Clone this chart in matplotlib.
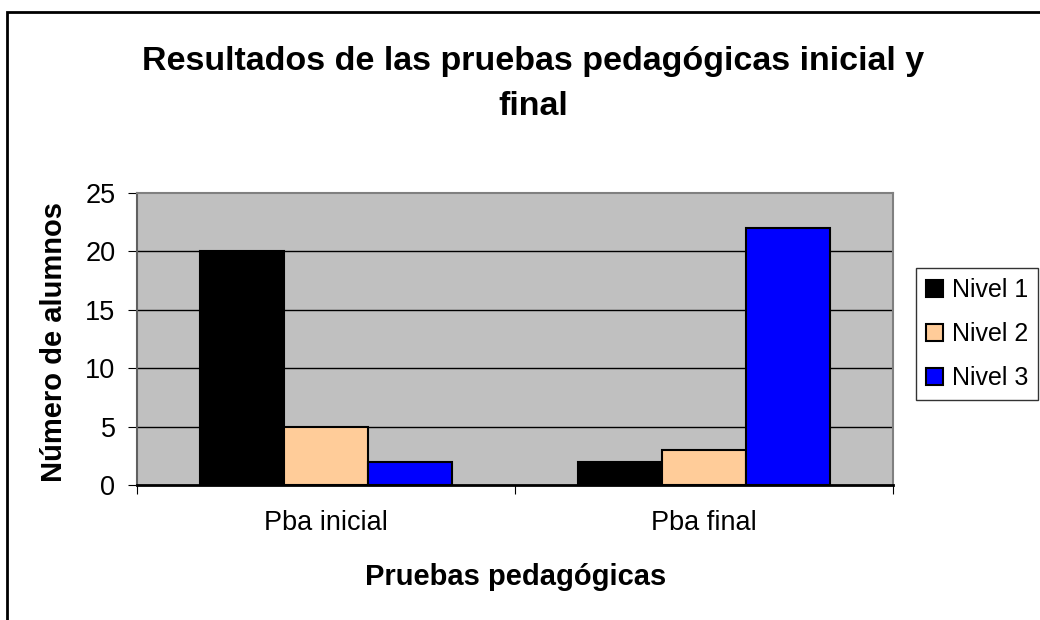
import numpy as np
import matplotlib.pyplot as plt
from matplotlib.patches import Rectangle

plt.rcParams["font.family"] = ["Liberation Sans", "DejaVu Sans"]

categorias = ["Pba inicial", "Pba final"]
niveles = ["Nivel 1", "Nivel 2", "Nivel 3"]
nivel1 = [20, 2]
nivel2 = [5, 3]
nivel3 = [2, 22]
colores = ["#000000", "#FFCC99", "#0000FF"]

W, H = 1040, 620
fig = plt.figure(figsize=(W / 100, H / 100), dpi=100)
ax = fig.add_axes([137 / W, 1 - 485 / H, (893 - 137) / W, (485 - 193) / H])

# borde exterior del grafico (cortado a la derecha y abajo)
fig.patches.append(Rectangle((7 / W, -0.05), 1.1, 1 - 12 / H + 0.05,
                             transform=fig.transFigure, fill=False,
                             edgecolor="black", linewidth=2))

x = np.arange(len(categorias))
ancho = 0.222
for i, (vals, nombre, c) in enumerate(zip([nivel1, nivel2, nivel3], niveles, colores)):
    ax.bar(x + (i - 1) * ancho, vals, ancho, color=c, edgecolor="black",
           linewidth=1.5, label=nombre, zorder=3)

ax.set_facecolor("#C0C0C0")
ax.set_xlim(-0.5, 1.5)
ax.set_ylim(0, 25)
ax.set_yticks([0, 5, 10, 15, 20, 25])
for y in [5, 10, 15, 20]:
    ax.axhline(y, color="black", linewidth=1, zorder=1)

ax.set_xticks([-0.5, 0.5, 1.5])
ax.set_xticklabels([])
ax.set_xticks(x, minor=True)
ax.set_xticklabels(categorias, minor=True)
ax.tick_params(axis="x", which="minor", length=0, pad=18, labelsize=19.5)
ax.tick_params(axis="x", which="major", length=6.5, direction="out", color="black")
ax.tick_params(axis="y", length=6.5, direction="out", pad=9, labelsize=19.5, color="black")

for s in ["top", "right"]:
    ax.spines[s].set_color("#808080")
    ax.spines[s].set_linewidth(1.5)
ax.spines["left"].set_color("#606060")
ax.spines["left"].set_linewidth(1.5)
ax.spines["bottom"].set_color("black")
ax.spines["bottom"].set_linewidth(2)

fig.text(54 / W, 1 - 342 / H, "Número de alumnos", rotation=90,
         ha="center", va="center", fontsize=21, fontweight="bold")
fig.text(516 / W, 1 - 585 / H, "Pruebas pedagógicas",
         ha="center", va="baseline", fontsize=21, fontweight="bold")

fig.text(533 / W, 1 - 70 / H, "Resultados de las pruebas pedagógicas inicial y",
         ha="center", va="baseline", fontsize=24.5, fontweight="bold")
fig.text(533 / W, 1 - 115 / H, "final",
         ha="center", va="baseline", fontsize=24.5, fontweight="bold")

leg = ax.legend(loc="upper left", bbox_to_anchor=(916 / W, 1 - 268 / H),
                bbox_transform=fig.transFigure, fontsize=18, frameon=True,
                fancybox=False, edgecolor="black", handlelength=0.68,
                handleheight=0.68, handletextpad=0.36, labelspacing=0.8,
                borderpad=0.4, borderaxespad=0)
leg.get_frame().set_linewidth(1)

fig.savefig("out.png", dpi=100)
